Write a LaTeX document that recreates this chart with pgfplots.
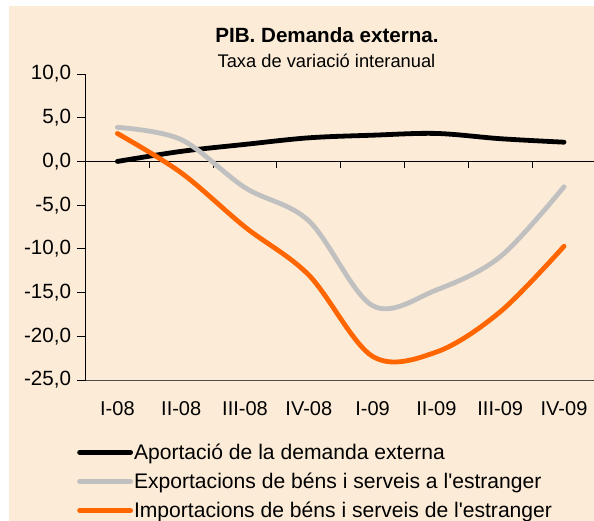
\documentclass[border=0pt]{standalone}
\usepackage{pgfplots}
\pgfplotsset{compat=1.18}
\usepackage{fontspec}
\setmainfont{Liberation Sans}[Ligatures=TeXOff]
\definecolor{bgbeige}{RGB}{252,235,215}
\definecolor{expgray}{RGB}{192,192,192}
\definecolor{imporange}{RGB}{255,102,0}
\pgfplotstableread{
x aport exp imp
0 0.0 3.9 3.2
1 1.15 2.5 -1.3
2 1.95 -3.0 -7.5
3 2.7 -6.8 -13.0
4 3.0 -16.5 -22.3
5 3.2 -14.7 -21.8
6 2.6 -10.9 -17.2
7 2.2 -2.9 -9.7
}\datatable
\begin{document}
\begin{tikzpicture}
\path[use as bounding box, fill=white] (0bp,0bp) rectangle (594bp,521bp);
\fill[bgbeige] (9bp,0bp) rectangle (594bp,515bp);
\node[font=\fontsize{20.6bp}{23bp}\selectfont\bfseries, anchor=base] at (327bp,478.3bp) {PIB. Demanda externa.};
\node[font=\fontsize{18.3bp}{21bp}\selectfont, anchor=base] at (326.5bp,453bp) {Taxa de variació interanual};
\begin{axis}[
  scale only axis,
  width=508.5bp, height=306bp,
  at={(85.5bp,141bp)}, anchor=south west,
  xmin=-0.5, xmax=7.47,
  ymin=-25, ymax=10,
  axis y line*=left,
  axis x line*=bottom,
  x axis line style={draw=black!70, line width=0.9bp, -},
  y axis line style={draw=black, line width=0.9bp, -},
  xtick={0,...,7},
  xticklabels={I-08,II-08,III-08,IV-08,I-09,II-09,III-09,IV-09},
  x tick style={draw=none},
  xticklabel style={font=\fontsize{20bp}{24bp}\selectfont, yshift=-10bp},
  ytick={-25,-20,...,10},
  yticklabels={{-25,0},{-20,0},{-15,0},{-10,0},{-5,0},{0,0},{5,0},{10,0}},
  yticklabel style={font=\fontsize{20.6bp}{24bp}\selectfont, xshift=-3bp},
  y tick style={draw=black, line width=0.9bp},
  tick align=outside,
  major tick length=8bp,
  legend cell align=left,
  legend style={at={(-0.0167,-0.205)}, anchor=north west, draw=none, fill=none,
    font=\fontsize{21.1bp}{25bp}\selectfont, row sep=10bp, inner sep=0pt,
    nodes={inner sep=1pt}},
  /tikz/every even column/.append style={column sep=0bp},
  legend image code/.code={\draw[#1, line cap=round] (0bp,0bp) -- (51bp,0bp);},
  every axis plot/.append style={line width=4.8bp, smooth, tension=0.55, line cap=round, line join=round},
]
\draw[black, line width=0.9bp] (axis cs:-0.5,0) -- (axis cs:7.47,0);
\pgfplotsinvokeforeach{0.5,1.5,2.5,3.5,4.5,5.5,6.5}{
  \draw[black, line width=0.9bp] (axis cs:#1,0) -- ++(0bp,-7bp);
}
\addplot[black] table[x=x,y=aport] {\datatable};
\addlegendentry{Aportació de la demanda externa}
\addplot[expgray] table[x=x,y=exp] {\datatable};
\addlegendentry{Exportacions de béns i serveis a l'estranger}
\addplot[imporange] table[x=x,y=imp] {\datatable};
\addlegendentry{Importacions de béns i serveis de l'estranger}
\end{axis}
\end{tikzpicture}
\end{document}
